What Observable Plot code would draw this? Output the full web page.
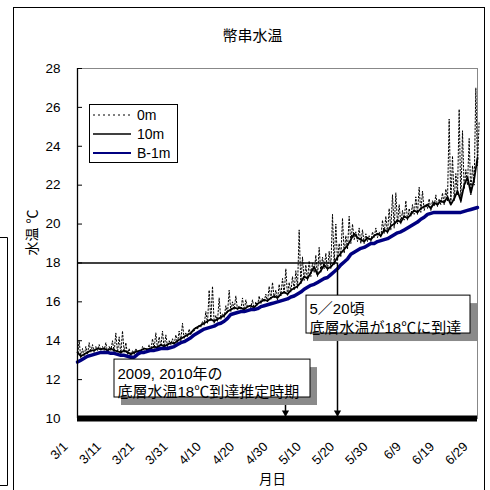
<!DOCTYPE html>
<html><head><meta charset="utf-8">
<script src="https://cdn.jsdelivr.net/npm/d3@7"></script>
<script src="https://cdn.jsdelivr.net/npm/@observablehq/plot@0.6"></script>
<style>body{margin:0;background:#fff}</style>
</head><body><div id="chart"></div>
<script>
const title = "幣串水温";
const yLabel = "水温 ℃";
const xLabel = "月日";
const xTickLabels = ["3/1","3/11","3/21","3/31","4/10","4/20","4/30","5/10","5/20","5/30","6/9","6/19","6/29"];
const yTicks = [10,12,14,16,18,20,22,24,26,28];
const seriesNames = ["0m","10m","B-1m"];

// daily values from 3/1 (index 0) to 6/29 (index 120)
const surface0mLow = [
13.2,13.1,13.2,13.3,13.4,13.4,13.5,13.5,13.5,13.4,
13.5,13.4,13.4,13.3,13.4,13.3,13.2,13.3,13.4,13.4,
13.5,13.5,13.5,13.6,13.6,13.7,13.6,13.7,13.8,13.8,
13.9,14.0,14.1,14.2,14.3,14.5,14.6,14.7,14.8,14.9,
15.0,14.9,15.0,15.1,15.2,15.4,15.5,15.6,15.6,15.6,
15.5,15.7,15.7,15.6,15.8,15.9,16.0,16.0,16.1,16.2,
16.1,16.3,16.4,16.3,16.5,16.6,16.7,16.9,17.1,17.1,
17.3,17.5,17.3,17.5,17.7,17.6,17.7,17.9,18.1,18.3,
18.5,18.7,19.0,19.2,19.1,19.0,19.0,19.1,19.1,19.3,
19.3,19.3,19.5,19.5,19.7,19.8,20.0,20.0,20.2,20.2,
20.4,20.5,20.5,20.6,20.7,20.8,20.7,20.9,20.9,21.0,
21.0,21.2,21.0,21.2,21.5,21.1,21.8,22.0,21.5,22.0,
23.0];
const surface0mHigh = [
14.0,13.6,13.7,13.9,13.8,13.7,13.8,13.7,13.9,13.7,
14.0,14.4,14.2,14.5,13.9,13.6,13.5,13.6,13.5,13.7,
13.6,13.8,14.1,14.4,14.2,14.5,14.3,14.0,14.1,14.3,
14.5,14.9,14.4,14.6,14.5,14.7,14.8,15.0,15.5,16.6,
16.8,15.3,16.2,15.4,15.8,16.6,16.0,16.3,15.8,16.2,
16.1,15.8,16.1,16.0,16.3,16.2,16.4,16.8,17.0,16.6,
16.9,17.2,17.7,17.0,17.3,17.6,19.7,18.3,17.9,18.1,
18.0,18.4,18.8,18.3,18.5,18.6,20.5,20.0,19.0,20.3,
19.4,20.4,20.0,19.6,19.8,19.7,19.5,19.4,19.6,19.8,
19.6,20.2,20.4,20.8,21.5,21.6,21.0,20.7,21.2,20.8,
21.0,21.4,21.9,21.7,21.0,21.3,21.2,21.5,21.3,21.6,
21.8,25.4,23.5,22.6,25.9,24.8,22.8,24.4,23.0,27.0,
25.3];
const depth10m = [
13.4,13.2,13.3,13.4,13.5,13.5,13.6,13.55,13.6,13.5,
13.6,13.5,13.45,13.4,13.5,13.4,13.3,13.4,13.45,13.5,
13.6,13.55,13.6,13.7,13.65,13.8,13.7,13.8,13.9,13.85,
14.0,14.1,14.2,14.3,14.4,14.6,14.7,14.8,14.9,15.0,
15.1,15.0,15.1,15.2,15.3,15.5,15.6,15.7,15.65,15.7,
15.6,15.75,15.8,15.7,15.9,16.0,16.1,16.05,16.2,16.3,
16.2,16.4,16.5,16.4,16.6,16.7,16.8,17.0,17.3,17.2,
17.5,17.8,17.4,17.6,17.9,17.7,17.8,18.0,18.3,18.5,
18.7,18.9,19.2,19.5,19.3,19.2,19.1,19.3,19.2,19.4,
19.5,19.4,19.7,19.6,19.9,20.0,20.2,20.1,20.4,20.3,
20.5,20.7,20.6,20.8,20.9,21.0,20.8,21.1,21.0,21.2,
21.1,21.4,21.0,21.3,21.7,21.2,22.0,22.4,21.6,22.3,
23.4];
const bottomB1m = [
12.9,13.0,13.1,13.2,13.25,13.3,13.35,13.4,13.4,13.4,
13.35,13.35,13.3,13.25,13.25,13.2,13.15,13.15,13.3,13.4,
13.4,13.45,13.5,13.5,13.55,13.6,13.6,13.6,13.65,13.7,
13.8,13.9,13.95,14.05,14.15,14.3,14.4,14.5,14.6,14.65,
14.7,14.75,14.85,14.9,15.0,15.15,15.35,15.4,15.45,15.5,
15.5,15.55,15.6,15.6,15.65,15.75,15.8,15.85,15.9,15.95,
16.0,16.05,16.1,16.15,16.25,16.3,16.4,16.5,16.65,16.75,
16.85,16.9,17.0,17.1,17.2,17.25,17.4,17.55,17.7,17.9,
18.05,18.2,18.45,18.55,18.65,18.75,18.8,18.9,19.0,19.0,
19.1,19.15,19.2,19.25,19.35,19.45,19.55,19.6,19.7,19.8,
19.9,20.0,20.1,20.25,20.35,20.5,20.55,20.6,20.6,20.6,
20.6,20.6,20.6,20.6,20.6,20.6,20.65,20.7,20.75,20.8,
20.85];

// annotations (x in days since 3/1, y in °C)
const threshold = 18;
const reachDay = 78;      // 5/18
const estDay = 62.4;      // 2009, 2010 estimate
const notes = [
  {text: "5／20頃\n底層水温が18℃に到達", x1: 68.7, x2: 117.9, y1: 14.37, y2: 16.32},
  {text: "2009, 2010年の\n底層水温18℃到達推定時期", x1: 11.1, x2: 69.9, y1: 11.08, y2: 13.03}
];

const start = new Date(Date.UTC(2010, 2, 1));
const dayOf = s => { const [m, d] = s.split("/").map(Number); return d3.utcDay.count(start, new Date(Date.UTC(2010, m - 1, d))); };
const xTicks = xTickLabels.map(dayOf);
const xMax = xTicks[xTicks.length - 1];

const rows0 = surface0mLow.flatMap((lo, i) => [{day: i, v: lo}, {day: i + 0.5, v: surface0mHigh[i]}]);
const rows10 = depth10m.map((v, i) => ({day: i, v}));
const rowsB = bottomB1m.map((v, i) => ({day: i, v}));

const FONT = '"Liberation Sans", "Noto Sans CJK JP", sans-serif';

const plot = Plot.plot({
  width: 490, height: 490,
  marginLeft: 77, marginRight: 13, marginTop: 68, marginBottom: 72,
  style: {background: "white", overflow: "visible", fontFamily: FONT, fontSize: "13px", color: "black"},
  x: {domain: [0, xMax], axis: null},
  y: {domain: [yTicks[0], yTicks[yTicks.length - 1]], axis: null},
  marks: [
    Plot.frame({stroke: "#888"}),
    Plot.line(rows0, {x: "day", y: "v", stroke: "black", strokeWidth: 1, strokeDasharray: "1.5,2"}),
    Plot.line(rows10, {x: "day", y: "v", stroke: "black", strokeWidth: 1.8}),
    Plot.line(rowsB, {x: "day", y: "v", stroke: "#000080", strokeWidth: 3.5}),
    Plot.ruleX([0], {stroke: "black", strokeWidth: 1.3}),
    Plot.ruleY([threshold], {x1: 0, x2: reachDay, stroke: "black", strokeWidth: 1.5}),
    Plot.ruleX([reachDay], {y1: threshold, y2: yTicks[0], stroke: "black", strokeWidth: 1.5}),
    Plot.ruleX([estDay], {y1: notes[1].y1, y2: yTicks[0], stroke: "black", strokeWidth: 1.5}),
    Plot.ruleY([yTicks[0]], {stroke: "black", strokeWidth: 6}),
    Plot.dot([reachDay, estDay], {x: d => d, y: yTicks[0], symbol: "triangle", rotate: 180, r: 2.7, fill: "black", stroke: null, dy: -6}),
    Plot.rect(notes, {x1: "x1", x2: "x2", y1: "y1", y2: "y2", fill: "#8a8a8a", dx: 7, dy: 8}),
    Plot.rect(notes, {x1: "x1", x2: "x2", y1: "y1", y2: "y2", fill: "white", stroke: "black", strokeWidth: 1}),
    Plot.text([notes[0]], {x: "x1", y: "y2", text: "text", textAnchor: "start", lineAnchor: "top", dx: 3, dy: 5, fontSize: 15, lineHeight: 1.27}),
    Plot.text([notes[1]], {x: "x1", y: "y2", text: "text", textAnchor: "start", lineAnchor: "top", dx: 3, dy: 7, fontSize: 15, lineHeight: 1.17}),
    Plot.axisY({ticks: yTicks, tickSize: 0, tickPadding: 17, fontSize: 13.5, label: null}),
    Plot.axisY({ticks: yTicks, tickSize: 5, dx: 5, tickFormat: () => "", label: null}),
    Plot.text(xTicks, {x: d => d, frameAnchor: "bottom", text: (d, i) => xTickLabels[i], rotate: -45, textAnchor: "end", dx: -9, dy: 29, fontSize: 13}),
    Plot.text([title], {frameAnchor: "top", dx: -25, dy: -38, fontSize: 15}),
    Plot.text([yLabel], {frameAnchor: "left", dx: -45, dy: 12, rotate: -90, fontSize: 14}),
    Plot.text([xLabel], {frameAnchor: "bottom", dx: -5, dy: 65, fontSize: 13.5})
  ]
});

const svg = d3.select(plot);
// chart area border and neighbouring box edge
svg.append("rect").attr("x", 13.5).attr("y", 7.5).attr("width", 471).attr("height", 490)
  .attr("fill", "none").attr("stroke", "black");
svg.append("path").attr("d", "M0,237.5H7.5V485.5H0").attr("fill", "none").attr("stroke", "black");

// legend
const lg = svg.append("g").attr("font-family", FONT).attr("font-size", 14).attr("text-anchor", "start");
lg.append("rect").attr("x", 89.5).attr("y", 104.5).attr("width", 88).attr("height", 58)
  .attr("fill", "white").attr("stroke", "black");
const legendStyles = [
  {dash: "2,3", color: "black", w: 1},
  {dash: null, color: "black", w: 1.3},
  {dash: null, color: "#000080", w: 2}
];
seriesNames.forEach((name, i) => {
  const y = 115 + i * 19;
  const s = legendStyles[i];
  const ln = lg.append("line").attr("x1", 93).attr("x2", 131).attr("y1", y).attr("y2", y)
    .attr("stroke", s.color).attr("stroke-width", s.w);
  if (s.dash) ln.attr("stroke-dasharray", s.dash);
  lg.append("text").attr("x", 137).attr("y", y).attr("dy", "0.35em").attr("text-anchor", "start").text(name);
});

document.getElementById("chart").appendChild(plot);
</script>
</body></html>
